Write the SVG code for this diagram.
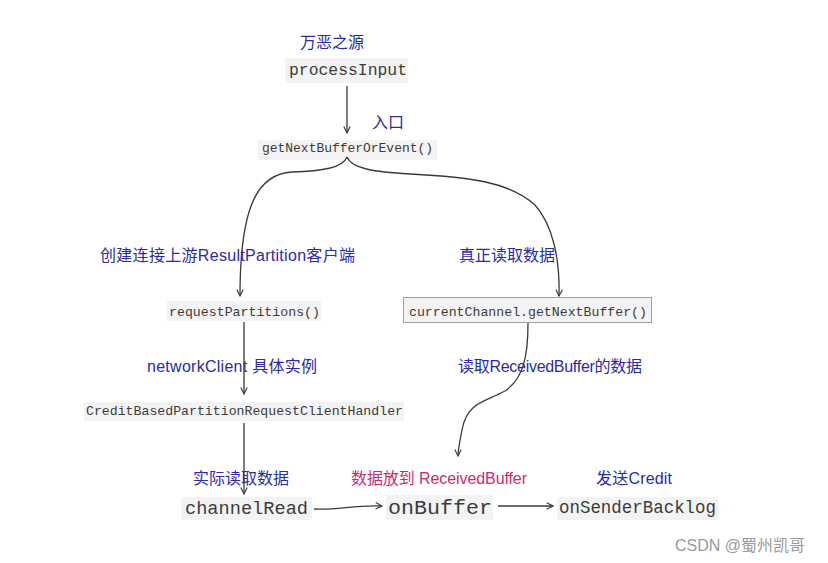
<svg xmlns="http://www.w3.org/2000/svg" width="828" height="563" viewBox="0 0 828 563">
<style>
.lbl{font-family:"Liberation Sans","Noto Sans CJK SC",sans-serif;font-size:16px;fill:#2b2ba6}
.pink{fill:#d02a6e}
.code{font-family:"Liberation Mono","DejaVu Sans Mono",monospace;fill:#3c3c3c}
.bg{fill:#f3f3f3}
.conn{fill:none;stroke:#3a3a3a;stroke-width:1.3;marker-end:url(#ah)}
.wm{font-family:"Liberation Sans","Noto Sans CJK SC",sans-serif;font-size:16px;fill:#9a9a9a}
</style>
<defs>
<marker id="ah" viewBox="0 0 10 10" refX="9" refY="5" markerWidth="8" markerHeight="8" markerUnits="userSpaceOnUse" orient="auto">
<path d="M1,1 L9,5 L1,9" fill="none" stroke="#3a3a3a" stroke-width="1.4"/>
</marker>
</defs>
<rect width="828" height="563" fill="#ffffff"/>

<g id="labels">
<text class="lbl" x="300" y="48">万恶之源</text>
<text class="lbl" x="372" y="128">入口</text>
<text class="lbl" x="100" y="261" textLength="255">创建连接上游ResultPartition客户端</text>
<text class="lbl" x="459" y="261">真正读取数据</text>
<text class="lbl" x="147" y="372" textLength="170">networkClient 具体实例</text>
<text class="lbl" x="458" y="372" textLength="184">读取ReceivedBuffer的数据</text>
<text class="lbl" x="193" y="484">实际读取数据</text>
<text class="lbl pink" x="351" y="484" textLength="176">数据放到 ReceivedBuffer</text>
<text class="lbl" x="596" y="484" textLength="76">发送Credit</text>
</g>

<g id="processInput">
<rect class="bg" x="285" y="58" width="123" height="25"/>
<text class="code" x="289" y="75" font-size="16" textLength="118" lengthAdjust="spacingAndGlyphs">processInput</text>
</g>
<g id="getNextBufferOrEvent">
<rect class="bg" x="258" y="140" width="179" height="20"/>
<text class="code" x="262" y="152" font-size="13" textLength="171" lengthAdjust="spacingAndGlyphs">getNextBufferOrEvent()</text>
</g>
<g id="requestPartitions">
<rect class="bg" x="167" y="301" width="154" height="20"/>
<text class="code" x="169" y="316" font-size="13" textLength="151" lengthAdjust="spacingAndGlyphs">requestPartitions()</text>
</g>
<g id="currentChannel">
<rect x="403.5" y="297.5" width="248" height="25" fill="#f3f3f3" stroke="#a0a0a0" stroke-width="1"/>
<text class="code" x="409" y="316" font-size="13" textLength="238" lengthAdjust="spacingAndGlyphs">currentChannel.getNextBuffer()</text>
</g>
<g id="creditHandler">
<rect class="bg" x="84" y="402" width="320" height="19"/>
<text class="code" x="86" y="415" font-size="13" textLength="317" lengthAdjust="spacingAndGlyphs">CreditBasedPartitionRequestClientHandler</text>
</g>
<g id="channelRead">
<rect class="bg" x="181" y="497" width="131" height="23"/>
<text class="code" x="185" y="514" font-size="19" textLength="123" lengthAdjust="spacingAndGlyphs">channelRead</text>
</g>
<g id="onBuffer">
<rect class="bg" x="386" y="495" width="107" height="25"/>
<text class="code" x="388" y="514" font-size="21" textLength="104" lengthAdjust="spacingAndGlyphs">onBuffer</text>
</g>
<g id="onSenderBacklog">
<rect class="bg" x="557" y="497" width="161" height="23"/>
<text class="code" x="559" y="513" font-size="17.5" textLength="157" lengthAdjust="spacingAndGlyphs">onSenderBacklog</text>
</g>

<g id="connectors">
<path class="conn" d="M347,86 L347,133"/>
<path class="conn" d="M347,157 C343,168 322,171 292,172 C258,174 240,205 240,296"/>
<path class="conn" d="M347,157 C352,169 375,172 410,174 C470,177 510,182 535,205 C553,225 560,260 559,296"/>
<path class="conn" d="M244,322 L244,394"/>
<path class="conn" d="M244,423 L244,494"/>
<path class="conn" d="M528,323 C528,355 524,378 505,391 C485,402 467,402 462,430 C459,445 458,450 458,456"/>
<path class="conn" d="M314,509 C340,510 352,505 382,506"/>
<path class="conn" d="M498,506 L553,506"/>
</g>

<text class="wm" x="675" y="551">CSDN @蜀州凯哥</text>
</svg>
